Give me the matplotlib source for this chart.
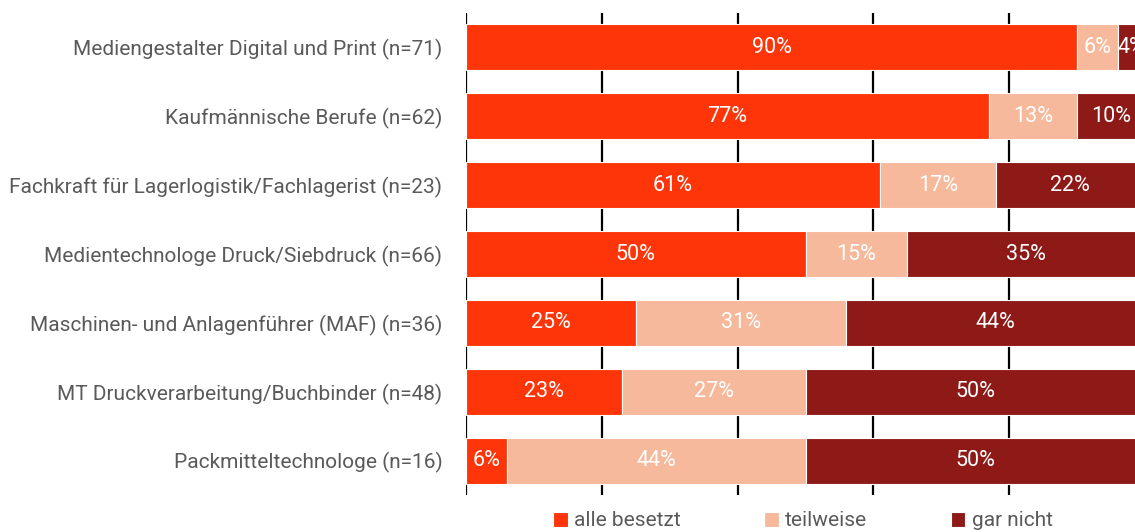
import matplotlib
matplotlib.use("Agg")
import matplotlib.pyplot as plt
import numpy as np

# data
categories = [
    "Mediengestalter Digital und Print (n=71)",
    "Kaufmännische Berufe (n=62)",
    "Fachkraft für Lagerlogistik/Fachlagerist (n=23)",
    "Medientechnologe Druck/Siebdruck (n=66)",
    "Maschinen- und Anlagenführer (MAF) (n=36)",
    "MT Druckverarbeitung/Buchbinder (n=48)",
    "Packmitteltechnologe (n=16)",
]
alle_besetzt = [90, 77, 61, 50, 25, 23, 6]
teilweise = [6, 13, 17, 15, 31, 27, 44]
gar_nicht = [4, 10, 22, 35, 44, 50, 50]
series_names = ["alle besetzt", "teilweise", "gar nicht"]
colors = ["#ff350a", "#f7b99b", "#8e1a17"]

plt.rcParams["font.family"] = ["Roboto", "DejaVu Sans"]
text_color = "#5a5a5a"
fs = 15

W, H = 1135, 532
fig = plt.figure(figsize=(W / 100, H / 100), dpi=100)
# axis runs a bit past the right figure edge, as in the reference
ax = fig.add_axes([466 / W, 37 / H, 679 / W, (495 - 13) / H])

y = np.arange(len(categories))
left = np.zeros(len(categories))
for vals, name, col in zip([alle_besetzt, teilweise, gar_nicht], series_names, colors):
    vals = np.array(vals, dtype=float)
    bars = ax.barh(y, vals, left=left, height=0.67, color=col, edgecolor="white",
                   linewidth=0.8, label=name, zorder=2)
    for b, v in zip(bars, vals):
        ax.text(b.get_x() + b.get_width() / 2, b.get_y() + b.get_height() / 2,
                f"{v:.0f}%", ha="center", va="center", color="white", fontsize=15.5, zorder=3)
    left += vals

ax.set_xlim(0, 100)
ax.set_ylim(len(categories) - 0.5, -0.5)
ax.set_xticks([0, 20, 40, 60, 80, 100])
ax.xaxis.grid(True, color="black", linewidth=1.6)
ax.set_axisbelow(True)
ax.tick_params(axis="x", length=0, labelbottom=False)
ax.tick_params(axis="y", length=0, pad=17, labelsize=fs, labelcolor=text_color)
ax.set_yticks(y)
ax.set_yticklabels(categories)
for s in ax.spines.values():
    s.set_visible(False)

leg = fig.legend(loc="center", bbox_to_anchor=(803 / W, 11 / H), ncol=3, frameon=False,
                 fontsize=fs, handlelength=0.7, handleheight=0.7, handletextpad=0.3,
                 columnspacing=4.0, borderaxespad=0)
for t in leg.get_texts():
    t.set_color(text_color)

fig.savefig("out.png", dpi=100)
